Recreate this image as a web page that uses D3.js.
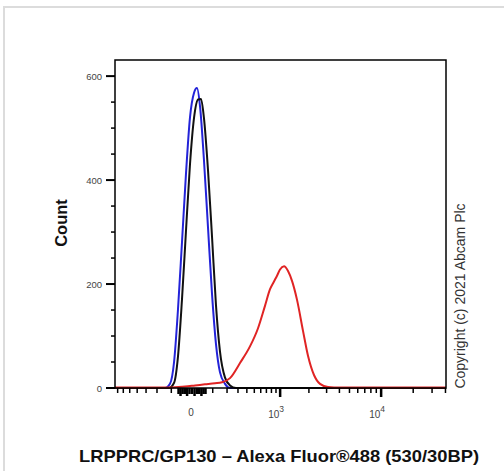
<!DOCTYPE html>
<html>
<head>
<meta charset="utf-8">
<script src="https://cdn.jsdelivr.net/npm/d3@7"></script>
<style>
  body { margin: 0; background: #fff; }
  svg { display: block; font-family: Arial, "Liberation Sans", sans-serif; }
</style>
</head>
<body>
<div id="chart"></div>
<script>
// Histogram data: fluorescence intensity (x) and event count
const blueX = [-751, -261, -140, -108, -84, -63, -43, -25, -8, 8, 20, 34, 52, 73, 96, 120, 147, 184, 225, 40450];
const blueCount = [0, 0, 0, 8, 50, 150, 280, 410, 520, 568, 577, 540, 440, 310, 180, 85, 30, 8, 0, 0];

const blackX = [-751, -114, -84, -63, -43, -25, -8, 8, 25, 38, 52, 73, 96, 120, 147, 184, 225, 280, 40450];
const blackCount = [0, 0, 10, 60, 170, 300, 430, 520, 555, 556, 520, 420, 290, 160, 70, 20, 5, 0, 0];

const redX = [-751, -261, -108, -29, 12, 57, 114, 161, 225, 321, 440, 556, 674, 771, 855, 924, 997, 1102, 1216, 1340, 1510, 1742, 1958, 2250, 2583, 3098, 4054, 40450];
const redCount = [1, 1, 1, 3, 5, 7, 9, 11, 19, 48, 80, 115, 158, 190, 205, 216, 228, 234, 225, 206, 170, 110, 62, 25, 8, 2, 1, 1];

// Axis ticks
const yLabelTicks = [0, 200, 400, 600];
const yMinorTicks = [50, 100, 150, 250, 300, 350, 450, 500, 550];
const xMajorTicks = [1000, 10000];
const xMinorTicks = [-700, -600, -500, -400, -300, -200, -100,
  100, 200, 300, 400, 500, 600, 700, 800, 900,
  2000, 3000, 4000, 5000, 6000, 7000, 8000, 9000,
  20000, 30000, 40000];
const xZeroTicks = [-60, -50, -40, -30, -20, -10, 0, 10, 20, 30, 40, 50, 60];

const width = 504;
const height = 471;

const marginLeft = 115;
const marginRight = 446;
const marginTop = 60;
const marginBottom = 388;

const x = d3.scaleSymlog()
  .constant(180)
  .domain([-751, 40450])
  .range([marginLeft, marginRight]);

const y = d3.scaleLinear()
  .domain([0, 631])
  .range([marginBottom, marginTop]);

const svg = d3.select("#chart")
  .append("svg")
  .attr("width", width)
  .attr("height", height);

// outer light border
svg.append("rect")
  .attr("x", 4).attr("y", 7)
  .attr("width", width + 10).attr("height", height + 10)
  .attr("fill", "none")
  .attr("stroke", "#dcdcdc")
  .attr("stroke-width", 2);

const line = d3.line()
  .x(d => x(d[0]))
  .y(d => y(d[1]))
  .curve(d3.curveMonotoneX);

const series = [
  { xs: blueX, ys: blueCount, color: "#2323d8" },
  { xs: blackX, ys: blackCount, color: "#111" },
  { xs: redX, ys: redCount, color: "#e02424" }
];

svg.append("g")
  .selectAll("path")
  .data(series)
  .join("path")
  .attr("fill", "none")
  .attr("stroke", d => d.color)
  .attr("stroke-width", 2)
  .attr("stroke-linejoin", "round")
  .attr("d", d => line(d.xs.map((v, i) => [v, d.ys[i]])));

// plot frame
svg.append("rect")
  .attr("x", marginLeft)
  .attr("y", marginTop)
  .attr("width", marginRight - marginLeft)
  .attr("height", marginBottom - marginTop)
  .attr("fill", "none")
  .attr("stroke", "#000")
  .attr("stroke-width", 1.5);

// y axis
const yAxis = svg.append("g").attr("stroke", "#000");
yAxis.selectAll(".major")
  .data(yLabelTicks)
  .join("line")
  .attr("x1", marginLeft - 9).attr("x2", marginLeft)
  .attr("y1", d => y(d)).attr("y2", d => y(d))
  .attr("stroke-width", 2);
yAxis.selectAll(".minor")
  .data(yMinorTicks)
  .join("line")
  .attr("x1", marginLeft - 4).attr("x2", marginLeft)
  .attr("y1", d => y(d)).attr("y2", d => y(d))
  .attr("stroke-width", 1.5);
svg.append("g")
  .selectAll("text")
  .data(yLabelTicks)
  .join("text")
  .attr("x", marginLeft - 13)
  .attr("y", d => y(d) + 3.5)
  .attr("text-anchor", "end")
  .attr("font-size", 9.5)
  .attr("fill", "#444")
  .text(d => d);

// x axis
const xAxis = svg.append("g").attr("stroke", "#000");
xAxis.selectAll(".minor")
  .data(xMinorTicks)
  .join("line")
  .attr("x1", d => x(d)).attr("x2", d => x(d))
  .attr("y1", marginBottom).attr("y2", marginBottom + 5)
  .attr("stroke-width", 1.5);
xAxis.append("g").selectAll("line")
  .data(xZeroTicks)
  .join("line")
  .attr("x1", d => x(d)).attr("x2", d => x(d))
  .attr("y1", marginBottom).attr("y2", (d, i) => marginBottom + (i % 3 === 1 ? 8 : 6))
  .attr("stroke-width", 2.5);
xAxis.append("g").selectAll("line")
  .data(xMajorTicks)
  .join("line")
  .attr("x1", d => x(d)).attr("x2", d => x(d))
  .attr("y1", marginBottom).attr("y2", marginBottom + 9)
  .attr("stroke-width", 2.5);

svg.append("text")
  .attr("x", x(0) - 1)
  .attr("y", marginBottom + 28)
  .attr("text-anchor", "middle")
  .attr("font-size", 10)
  .attr("fill", "#444")
  .text("0");

const xLabels = svg.append("g")
  .selectAll("text")
  .data(xMajorTicks)
  .join("text")
  .attr("x", d => x(d) - 4)
  .attr("y", marginBottom + 30)
  .attr("text-anchor", "middle")
  .attr("font-size", 10)
  .attr("fill", "#444");
xLabels.append("tspan").text("10");
xLabels.append("tspan")
  .attr("dy", -6)
  .attr("font-size", 8.5)
  .text(d => Math.round(Math.log10(d)));

// axis titles
svg.append("text")
  .attr("transform", `translate(67, 223) rotate(-90)`)
  .attr("text-anchor", "middle")
  .attr("font-size", 16.5)
  .attr("font-weight", "bold")
  .attr("fill", "#111")
  .text("Count");

svg.append("text")
  .attr("x", 279)
  .attr("y", 462)
  .attr("text-anchor", "middle")
  .attr("font-size", 17)
  .attr("font-weight", "bold")
  .attr("fill", "#111")
  .attr("textLength", 400)
  .attr("lengthAdjust", "spacingAndGlyphs")
  .text("LRPPRC/GP130 \u2013 Alexa Fluor\u00AE488 (530/30BP)");

svg.append("text")
  .attr("transform", `translate(465, 296) rotate(-90)`)
  .attr("text-anchor", "middle")
  .attr("font-size", 14)
  .attr("fill", "#333")
  .text("Copyright (c) 2021 Abcam Plc");
</script>
</body>
</html>
